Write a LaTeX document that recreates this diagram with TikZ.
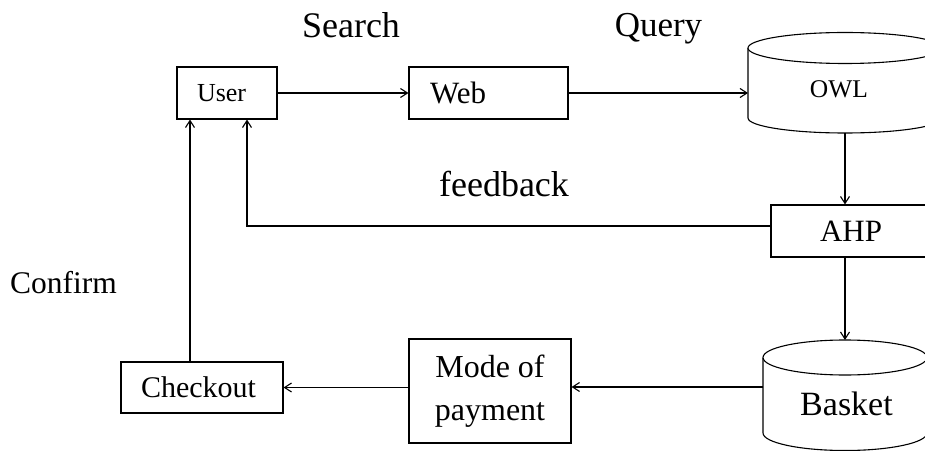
\documentclass[tikz,border=0pt]{standalone}
\usepackage{fontspec}
\setmainfont{Liberation Serif}
\usetikzlibrary{arrows.meta,calc}
\tikzset{
  fs/.style={font=\fontsize{#1}{#1}\selectfont},
  boxnode/.style={draw, line width=1.1pt, inner ysep=0pt},
  lbox/.style={boxnode, align=left},
  cyl/.style={draw, line width=1.1pt, fill=white},
  conn/.style={line width=1.1pt, -{Straight Barb[length=7pt,width=9pt]}},
  lbl/.style={anchor=base, inner sep=0pt}
}
\begin{document}
\begin{tikzpicture}[x=1pt,y=1pt]
\useasboundingbox (0,0) rectangle (925,450);
\clip (0,0) rectangle (925,450);

% boxes
\node[lbox, fs=26, inner xsep=20pt, text width=60pt, minimum height=52pt] (user) at (227,357) {User};
\node[lbox, fs=31, inner xsep=21pt, text width=117pt, minimum height=52pt] (web) at (488.5,357) {Web};
\node[boxnode, fs=31, minimum width=160pt, minimum height=52pt] (ahp) at (851,219) {AHP};
\node[boxnode, font=\fontsize{32}{43}\selectfont, align=center, minimum width=162pt, minimum height=104pt] (mode) at (490,59) {Mode of\\payment};
\node[lbox, fs=30, inner xsep=20pt, text width=122pt, minimum height=51pt] (checkout) at (202,62.5) {Checkout};

% OWL cylinder
\draw[cyl] (748,402) -- (748,332) arc[start angle=180, end angle=360, x radius=97pt, y radius=15pt] -- (942,402);
\draw[cyl] (845,402) ellipse[x radius=97pt, y radius=15.5pt];
\node[fs=25.5, inner sep=0pt] (owl) at (839,361) {OWL};
\coordinate (owlL) at (748,357);
\coordinate (owlB) at (845,317);

% Basket cylinder
\draw[cyl] (763,92.5) -- (763,17) arc[start angle=180, end angle=360, x radius=82pt, y radius=17.5pt] -- (927,92.5);
\draw[cyl] (845,92.5) ellipse[x radius=82pt, y radius=17.5pt];
\node[fs=34, inner sep=0pt] (basket) at (846.5,46) {Basket};
\coordinate (basketT) at (845,110);
\coordinate (basketL) at (763,63);

% labels
\node[lbl, fs=36] (search) at (351,412) {Search};
\node[lbl, fs=35] (query) at (658.5,413) {Query};
\node[lbl, fs=36] (feedback) at (504,253) {feedback};
\node[lbl, fs=31.5] (confirm) at (63.5,157) {Confirm};

% connectors
\draw[conn] (user.east) -- (web.west);
\draw[conn] (web.east) -- (owlL);
\draw[conn] (owlB) -- (owlB |- ahp.north);
\draw[conn] (owlB |- ahp.south) -- (basketT);
\draw[conn] ([yshift=5pt]ahp.west) -| ([xshift=20pt]user.south);
\draw[conn] (basketL) -- (basketL -| mode.east);
\draw[conn] (checkout.east -| mode.west) -- (checkout.east);
\draw[conn] ([xshift=-12pt]checkout.north) -- ([xshift=-12pt]checkout.north |- user.south);
\end{tikzpicture}
\end{document}
